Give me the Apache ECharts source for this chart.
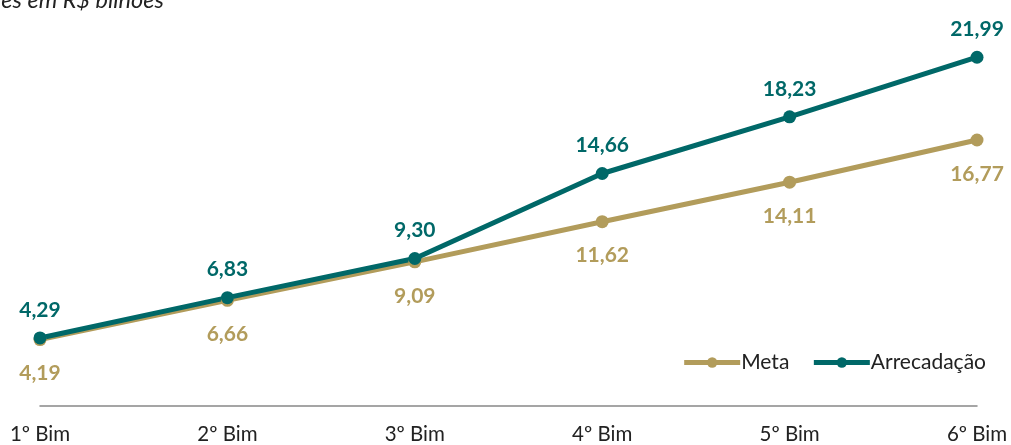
<!DOCTYPE html>
<html><head><meta charset="utf-8">
<script src="https://cdn.jsdelivr.net/npm/echarts@6/dist/echarts.min.js"></script>
<style>html,body{margin:0;padding:0;background:#fff}#c{width:1011px;height:445px}</style>
</head><body><div id="c"></div>
<script>
const categories = ['1º Bim','2º Bim','3º Bim','4º Bim','5º Bim','6º Bim'];
const meta = [4.19, 6.66, 9.09, 11.62, 14.11, 16.77];
const arrecadacao = [4.29, 6.83, 9.30, 14.66, 18.23, 21.99];
const titleText = 'Valores em R$ bilhões';
const gold = '#B29C5B', teal = '#006868';
const fmt = p => p.value.toFixed(2).replace('.', ',');
const chart = echarts.init(document.getElementById('c'));
chart.setOption({
  animation: false,
  textStyle: { fontFamily: 'Lato' },
  title: { text: titleText, left: -54, top: -16, textStyle: { fontFamily: 'Lato', fontStyle: 'italic', fontWeight: 'normal', fontSize: 23.5, color: '#222' } },
  legend: {
    right: 20, top: 347, itemWidth: 56, itemHeight: 13, itemGap: 22,
    lineStyle: { width: 5 },
    textStyle: { fontFamily: 'Lato', fontSize: 21, color: '#222', padding: [0,0,0,-4] },
    data: ['Meta', 'Arrecadação']
  },
  grid: { left: 40, right: 34, top: 9.5, bottom: 38 },
  xAxis: {
    type: 'category', data: categories, boundaryGap: false,
    axisLine: { lineStyle: { color: '#888', width: 1.5 } },
    axisTick: { show: false },
    axisLabel: { fontFamily: 'Lato', fontSize: 20.5, color: '#222', margin: 18 }
  },
  yAxis: { type: 'value', min: 0, max: 25, show: false, splitLine: { show: false } },
  series: [
    { name: 'Meta', type: 'line', data: meta, symbol: 'circle', symbolSize: 13,
      lineStyle: { color: gold, width: 5 }, itemStyle: { color: gold },
      label: { show: true, position: 'bottom', distance: 17, formatter: fmt, fontFamily: 'Lato', fontWeight: 'bold', fontSize: 21, color: gold } },
    { name: 'Arrecadação', type: 'line', data: arrecadacao, symbol: 'circle', symbolSize: 13,
      lineStyle: { color: teal, width: 5 }, itemStyle: { color: teal },
      label: { show: true, position: 'top', distance: 11, formatter: fmt, fontFamily: 'Lato', fontWeight: 'bold', fontSize: 21, color: teal } }
  ]
});
</script></body></html>
